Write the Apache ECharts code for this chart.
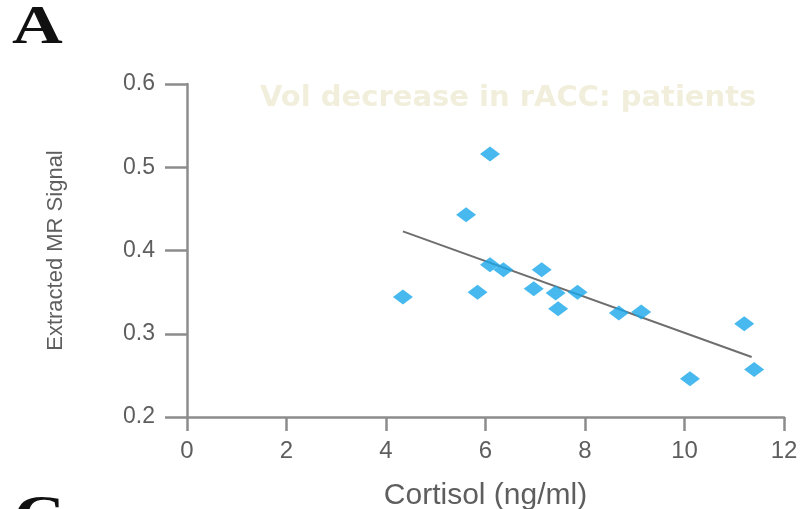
<!DOCTYPE html>
<html>
<head>
<meta charset="utf-8">
<script src="https://cdn.jsdelivr.net/npm/echarts@6/dist/echarts.min.js"></script>
<style>html,body{margin:0;padding:0;background:#fff}#c{width:802px;height:509px}</style>
</head>
<body>
<div id="c"></div>
<script>
// Data
const cortisol = [6.09, 5.61, 4.34, 5.84, 6.09, 6.36, 7.13, 6.97, 7.41, 7.46, 7.85, 8.68, 9.13, 11.20, 10.11, 11.40];
const mrSignal = [0.516, 0.443, 0.344, 0.350, 0.383, 0.377, 0.377, 0.354, 0.349, 0.330, 0.350, 0.325, 0.326, 0.312, 0.246, 0.257];
const fitX = [4.34, 11.35];
const fitY = [0.423, 0.272];
const xTicks = [0, 2, 4, 6, 8, 10, 12];
const yTicks = [0.2, 0.3, 0.4, 0.5, 0.6];

const chart = echarts.init(document.getElementById('c'));
const axisCol = '#8c8c8c';
const labelCol = '#5e5e5e';
chart.setOption({
  animation: false,
  backgroundColor: '#ffffff',
  title: {
    text: 'Vol decrease in rACC: patients',
    left: 255, top: 79,
    textStyle: { color: '#f1efdc', fontSize: 29, fontWeight: 'bold', fontFamily: 'DejaVu Sans' }
  },
  graphic: [
    { type: 'text', x: 12, y: 2, scaleX: 1.3, style: { text: 'A', fill: '#111', font: 'bold 54px "Liberation Serif"', textVerticalAlign: 'top' } },
    { type: 'text', x: 14, y: 492, scaleX: 1.3, style: { text: 'C', fill: '#111', font: 'bold 54px "Liberation Serif"', textVerticalAlign: 'top' } }
  ],
  grid: { left: 187, right: 18, top: 84, bottom: 92, containLabel: false, outerBoundsMode: 'none' },
  xAxis: {
    type: 'value', min: 0, max: 12, interval: 2,
    name: 'Cortisol (ng/ml)', nameLocation: 'middle', nameGap: 64,
    nameTextStyle: { color: labelCol, fontSize: 30, fontFamily: 'Liberation Sans' },
    axisLine: { show: true, lineStyle: { color: axisCol, width: 2.5 } },
    axisTick: { show: true, length: 14, lineStyle: { color: axisCol, width: 2.5 } },
    axisLabel: { color: labelCol, fontSize: 24, fontFamily: 'Liberation Sans', margin: 22,
      formatter: v => xTicks.includes(v) ? String(v) : '' },
    splitLine: { show: false }
  },
  yAxis: {
    type: 'value', min: 0.2, max: 0.6, interval: 0.1,
    name: 'Extracted MR Signal', nameLocation: 'middle', nameGap: 120,
    nameTextStyle: { color: labelCol, fontSize: 22, fontFamily: 'Liberation Sans' },
    axisLine: { show: true, lineStyle: { color: axisCol, width: 2.5 } },
    axisTick: { show: true, length: 22, lineStyle: { color: axisCol, width: 2.5 } },
    axisLabel: { color: labelCol, fontSize: 23, fontFamily: 'Liberation Sans', margin: 32,
      formatter: v => { const t = yTicks.find(y => Math.abs(y - v) < 1e-9); return t !== undefined ? t.toFixed(1) : ''; } },
    splitLine: { show: false }
  },
  series: [
    {
      type: 'line',
      data: fitX.map((x, i) => [x, fitY[i]]),
      symbol: 'none',
      lineStyle: { color: '#6e6e6e', width: 2 },
      z: 2
    },
    {
      type: 'scatter',
      data: cortisol.map((x, i) => [x, mrSignal[i]]),
      symbol: 'diamond',
      symbolSize: [20, 15],
      itemStyle: { color: '#1aa8ea' },
      z: 3
    }
  ]
});
</script>
</body>
</html>
